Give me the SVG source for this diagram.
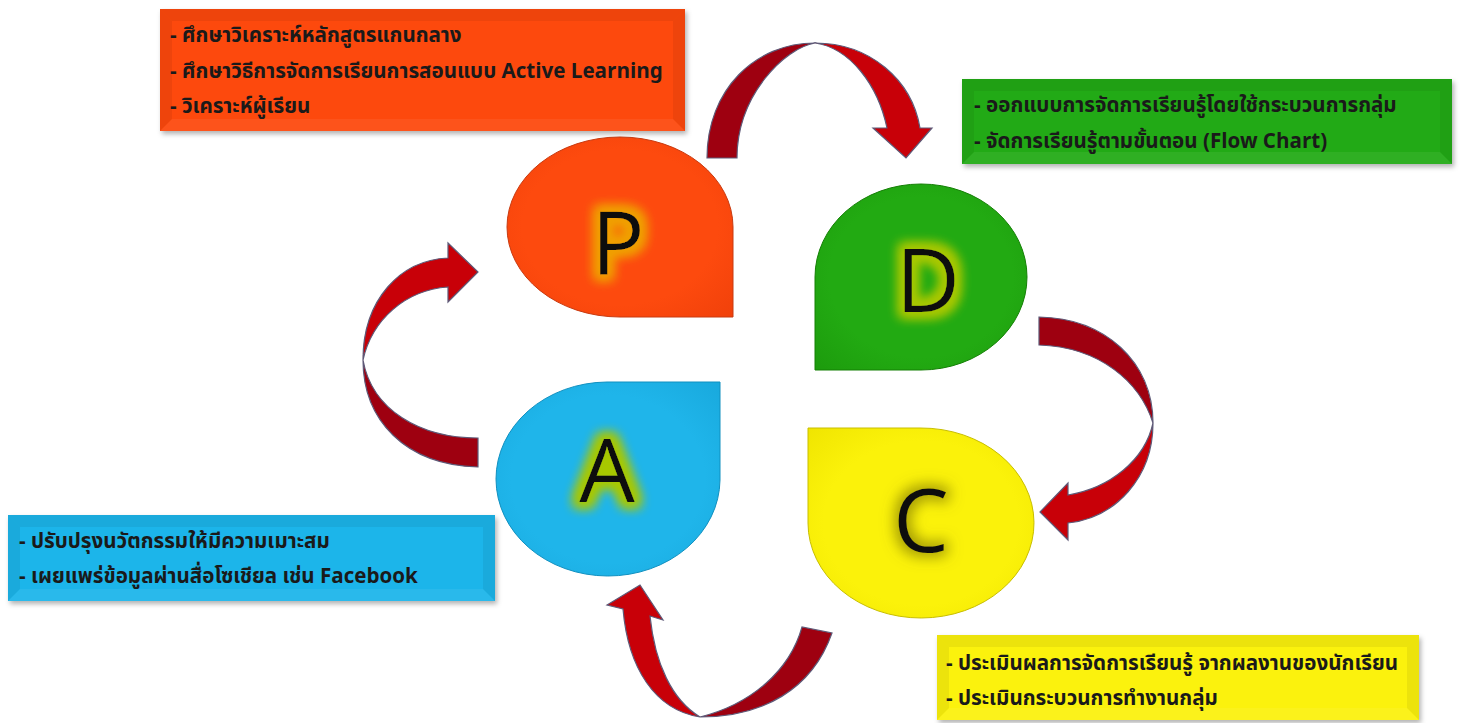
<svg xmlns="http://www.w3.org/2000/svg" width="1460" height="723" viewBox="0 0 1460 723">
<style>
.box-text{font-family:'Noto Sans Thai','Noto Sans','DejaVu Sans',sans-serif;font-weight:bold;font-size:20.6px;fill:#1a1a1a}
.letter{font-family:'Open Sans','Noto Sans',sans-serif;font-size:88px;fill:#111;text-anchor:middle}
.bevel{fill:#000;opacity:0.06}
.bevel-l{fill:#fff;opacity:0.06}
.arrow-dark{fill:#9e0010;stroke:#5e5a78;stroke-width:1.2}
.arrow-bright{fill:#c80008;stroke:#5e5a78;stroke-width:1.2}
</style>
<defs>
<filter id="shadow" x="-10%" y="-10%" width="120%" height="130%">
<feDropShadow dx="2" dy="3" stdDeviation="2.5" flood-color="#000" flood-opacity="0.3"/>
</filter>
<filter id="glowP" x="-50%" y="-50%" width="200%" height="200%">
<feMorphology in="SourceAlpha" operator="dilate" radius="5" result="d"/>
<feGaussianBlur in="d" stdDeviation="6" result="b"/>
<feFlood flood-color="#f0a000"/>
<feComposite in2="b" operator="in" result="g"/>
<feMerge><feMergeNode in="g"/><feMergeNode in="g"/><feMergeNode in="SourceGraphic"/></feMerge>
</filter>
<filter id="glowG" x="-50%" y="-50%" width="200%" height="200%">
<feMorphology in="SourceAlpha" operator="dilate" radius="5" result="d"/>
<feGaussianBlur in="d" stdDeviation="6" result="b"/>
<feFlood flood-color="#a8c800"/>
<feComposite in2="b" operator="in" result="g"/>
<feMerge><feMergeNode in="g"/><feMergeNode in="g"/><feMergeNode in="SourceGraphic"/></feMerge>
</filter>
<filter id="glowC" x="-50%" y="-50%" width="200%" height="200%">
<feMorphology in="SourceAlpha" operator="dilate" radius="4" result="d"/>
<feGaussianBlur in="d" stdDeviation="7" result="b"/>
<feFlood flood-color="#6a6400" flood-opacity="0.6"/>
<feComposite in2="b" operator="in" result="g"/>
<feMerge><feMergeNode in="g"/><feMergeNode in="SourceGraphic"/></feMerge>
</filter>
<radialGradient id="gP" cx="50%" cy="50%" r="72%"><stop offset="0.6" stop-color="#fd4a0e"/><stop offset="1" stop-color="#f0400a"/></radialGradient>
<radialGradient id="gD" cx="50%" cy="50%" r="72%"><stop offset="0.6" stop-color="#22aa12"/><stop offset="1" stop-color="#1c9a0c"/></radialGradient>
<radialGradient id="gA" cx="50%" cy="50%" r="72%"><stop offset="0.6" stop-color="#1fb5ea"/><stop offset="1" stop-color="#18a8dc"/></radialGradient>
<radialGradient id="gC" cx="50%" cy="50%" r="72%"><stop offset="0.6" stop-color="#fbf20a"/><stop offset="1" stop-color="#efe400"/></radialGradient>
</defs>

<g id="connectors">
<g id="arrow-P-D">
<path class="arrow-dark" d="M707,158 C707,90 755,43 815,43 C785,48 737,95 737,158 Z"/>
<path class="arrow-bright" d="M815,43 C870,43 912,80 920,128 L932,128 L906,158 L873,128 L887,128 C878,85 850,48 815,43 Z"/>
</g>
<g id="arrow-D-C">
<path class="arrow-dark" d="M1039,317 C1105,318 1153,362 1153,423 C1140,382 1100,347 1039,345 Z"/>
<path class="arrow-bright" d="M1153,423 C1153,478 1115,518 1068,523 L1068,540 L1040,512 L1068,483 L1068,495 C1110,488 1145,460 1153,423 Z"/>
</g>
<g id="arrow-C-A">
<path class="arrow-dark" d="M832,633 C812,690 762,717 700,717 C752,704 790,670 802,627 Z"/>
<path class="arrow-bright" d="M700,717 C655,710 628,668 623,609 L607,605 L640,585 L663,620 L650,616 C655,664 672,700 700,717 Z"/>
</g>
<g id="arrow-A-P">
<path class="arrow-dark" d="M478,467 C405,465 363,420 363,360 C372,410 420,438 478,438 Z"/>
<path class="arrow-bright" d="M363,360 C363,300 400,260 448,258 L448,243 L478,272 L448,302 L448,287 C405,290 372,320 363,360 Z"/>
</g>
</g>

<g id="node-P">
<path d="M733,317 L620,317 A113,90 0 1 1 733,227 Z" fill="url(#gP)" stroke="#c83a10" stroke-width="1"/>
<text class="letter" x="618" y="275" filter="url(#glowP)">P</text>
</g>
<g id="node-D">
<path d="M815,370 L815,277 A106,93 0 1 1 921,370 Z" fill="url(#gD)" stroke="#148005" stroke-width="1"/>
<text class="letter" x="928" y="312" filter="url(#glowG)">D</text>
</g>
<g id="node-A">
<path d="M720,382 L720,480 A112,97 0 1 1 607,382 Z" fill="url(#gA)" stroke="#1090c0" stroke-width="1"/>
<text class="letter" x="607" y="502" filter="url(#glowG)">A</text>
</g>
<g id="node-C">
<path d="M808,428 L920,428 A113,95 0 1 1 808,523 Z" fill="url(#gC)" stroke="#c8be00" stroke-width="1"/>
<text class="letter" x="921" y="552" filter="url(#glowC)">C</text>
</g>

<g id="box-P">
<rect x="160" y="9" width="525" height="122" fill="#fd4a0e" filter="url(#shadow)"/>
<polygon class="bevel" points="160,9 685,9 673,21 172,21"/>
<polygon class="bevel" points="160,9 172,21 172,119 160,131"/>
<polygon class="bevel" points="685,9 685,131 673,119 673,21"/>
<polygon class="bevel-l" points="160,131 685,131 673,119 172,119"/>
<text class="box-text" x="170" y="42">- ศึกษาวิเคราะห์หลักสูตรแกนกลาง</text>
<text class="box-text" x="170" y="78">- ศึกษาวิธีการจัดการเรียนการสอนแบบ Active Learning</text>
<text class="box-text" x="170" y="113">- วิเคราะห์ผู้เรียน</text>
</g>
<g id="box-D">
<rect x="962" y="79" width="490" height="85" fill="#22aa12" filter="url(#shadow)"/>
<polygon class="bevel" points="962,79 1452,79 1440,91 974,91"/>
<polygon class="bevel" points="962,79 974,91 974,152 962,164"/>
<polygon class="bevel" points="1452,79 1452,164 1440,152 1440,91"/>
<polygon class="bevel-l" points="962,164 1452,164 1440,152 974,152"/>
<text class="box-text" x="974" y="112">- ออกแบบการจัดการเรียนรู้โดยใช้กระบวนการกลุ่ม</text>
<text class="box-text" x="974" y="148">- จัดการเรียนรู้ตามขั้นตอน (Flow Chart)</text>
</g>
<g id="box-A">
<rect x="8" y="515" width="487" height="86" fill="#1fb5ea" filter="url(#shadow)"/>
<polygon class="bevel" points="8,515 495,515 483,527 20,527"/>
<polygon class="bevel" points="8,515 20,527 20,589 8,601"/>
<polygon class="bevel" points="495,515 495,601 483,589 483,527"/>
<polygon class="bevel-l" points="8,601 495,601 483,589 20,589"/>
<text class="box-text" x="19" y="548">- ปรับปรุงนวัตกรรมให้มีความเมาะสม</text>
<text class="box-text" x="19" y="583">- เผยแพร่ข้อมูลผ่านสื่อโซเชียล เช่น Facebook</text>
</g>
<g id="box-C">
<rect x="937" y="635" width="482" height="85" fill="#fbf20a" filter="url(#shadow)"/>
<polygon class="bevel" points="937,635 1419,635 1407,647 949,647"/>
<polygon class="bevel" points="937,635 949,647 949,708 937,720"/>
<polygon class="bevel" points="1419,635 1419,720 1407,708 1407,647"/>
<polygon class="bevel-l" points="937,720 1419,720 1407,708 949,708"/>
<text class="box-text" x="946" y="670">- ประเมินผลการจัดการเรียนรู้ จากผลงานของนักเรียน</text>
<text class="box-text" x="946" y="705">- ประเมินกระบวนการทำงานกลุ่ม</text>
</g>
</svg>
